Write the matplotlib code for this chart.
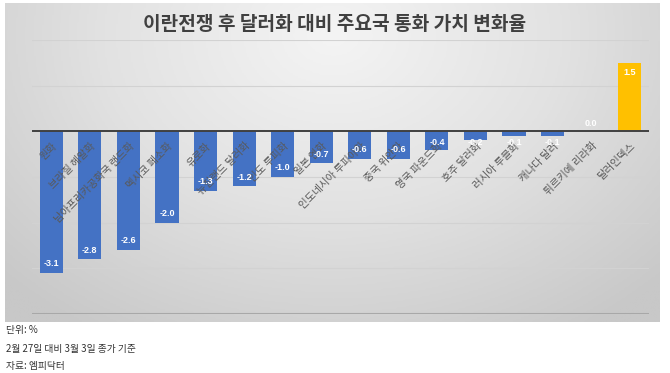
import numpy as np
import matplotlib
matplotlib.use("Agg")
import matplotlib.pyplot as plt
from matplotlib.colors import LinearSegmentedColormap
import matplotlib.transforms as mtransforms

plt.rcParams['font.family'] = ['Noto Sans CJK KR', 'DejaVu Sans']

title = "이란전쟁 후 달러화 대비 주요국 통화 가치 변화율"
categories = ["원화", "브라질 헤알화", "남아프리카공화국 랜드화", "멕시코 페소화", "유로화",
              "뉴질랜드 달러화", "인도 루피화", "일본 엔화", "인도네시아 루피아화", "중국 위안화",
              "영국 파운드화", "호주 달러화", "러시아 루블화", "캐나다 달러", "튀르키예 리라화", "달러인덱스"]
values = [-3.1, -2.8, -2.6, -2.0, -1.3, -1.2, -1.0, -0.7, -0.6, -0.6, -0.4, -0.2, -0.1, -0.1, 0.0, 1.5]
value_labels = ["-3.1", "-2.8", "-2.6", "-2.0", "-1.3", "-1.2", "-1.0", "-0.7", "-0.6", "-0.6",
                "-0.4", "-0.2", "-0.1", "-0.1", "0.0", "1.5"]
footnotes = ["단위: %", "2월 27일 대비 3월 3일 종가 기준", "자료: 엠피닥터"]

W, H = 670, 373
fig = plt.figure(figsize=(W / 100, H / 100), dpi=100)
fig.patch.set_facecolor('white')

# gradient background box
bg = fig.add_axes([5 / W, 1 - 322 / H, 655 / W, 319 / H])
ny, nx = 200, 400
yy, xx = np.mgrid[0:ny, 0:nx]
cx, cy = nx * 0.5, ny * 0.1
r = np.sqrt(((xx - cx) / (nx * 0.7)) ** 2 + ((yy - cy) / (ny * 1.1)) ** 2)
r = np.clip(r, 0, 1)
cmap = LinearSegmentedColormap.from_list("g", ["#f4f4f4", "#e2e2e2", "#c8c8c8"])
bg.imshow(r, cmap=cmap, aspect='auto', extent=[0, 1, 0, 1], vmin=0, vmax=1)
bg.set_axis_off()

ax = fig.add_axes([32 / W, 1 - 314 / H, 617 / W, 274 / H])
ax.patch.set_alpha(0)
ax.set_xlim(-0.5, len(categories) - 0.5)
ax.set_ylim(-4, 2)
for s in ax.spines.values():
    s.set_visible(False)
ax.set_xticks([])
ax.set_yticks([])

for g in [-3, -2, -1, 1, 2]:
    ax.axhline(g, color='#d2d2d2', lw=0.8, zorder=0)
ax.axhline(-4, color='#a8a8a8', lw=2.2, zorder=0)

x = np.arange(len(categories))
colors = ['#4472C4'] * (len(categories) - 1) + ['#FFC000']
ax.bar(x, values, width=0.6, color=colors, zorder=2)
ax.axhline(0, color='#404040', lw=1.4, zorder=3)

for i, (v, lab) in enumerate(zip(values, value_labels)):
    if v < 0:
        y = min(v + 0.2, -0.24)
    elif v > 0:
        y = v - 0.22
    else:
        y = 0.18
    ax.text(i, y, lab, ha='center', va='center', color='white', fontsize=6.5,
            fontweight='bold', zorder=5, family=['Liberation Sans', 'DejaVu Sans'])

for i, cat in enumerate(categories):
    off = mtransforms.ScaledTranslation(4 / 100, -13 / 100, fig.dpi_scale_trans)
    ax.text(i, 0, cat, rotation=45, rotation_mode='anchor', ha='right', va='center',
            fontsize=7.5, color='#595959', transform=ax.transData + off, zorder=4)

fig.text(335 / W, 1 - 25 / H, title, ha='center', va='center', fontsize=13.8,
         fontweight='bold', color='#404040')

ys = [330, 349, 366]
for t, yv in zip(footnotes, ys):
    fig.text(6 / W, 1 - yv / H, t, ha='left', va='center', fontsize=7, color='#333333')

fig.savefig('out.png', dpi=100)
